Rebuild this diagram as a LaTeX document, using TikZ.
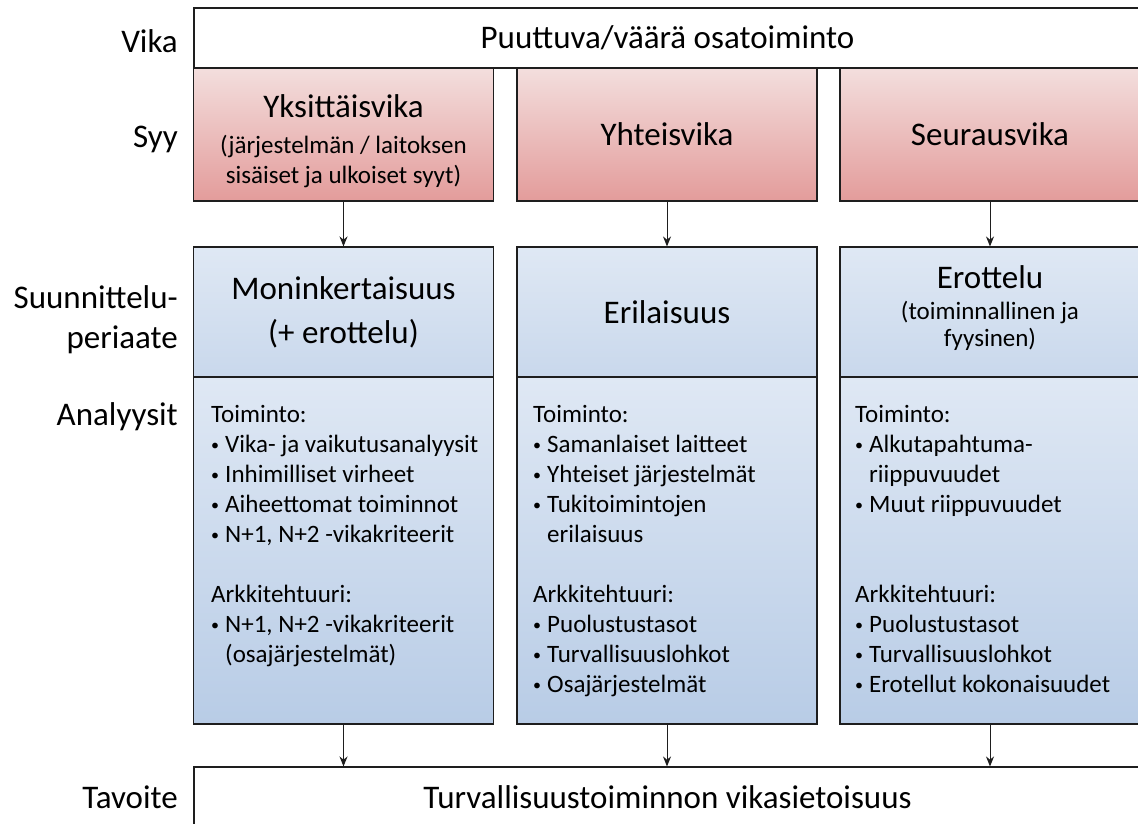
\documentclass[tikz,border=0pt]{standalone}
\usepackage{fontspec}
\setmainfont{Carlito}
\usepackage{tikz}
\usetikzlibrary{arrows.meta,positioning}
\definecolor{RedTop}{HTML}{F3DEDD}
\definecolor{RedBot}{HTML}{E39C9B}
\definecolor{BlueTop}{HTML}{DFE8F4}
\definecolor{BlueMid}{HTML}{C9D8EC}
\definecolor{BlueBot}{HTML}{B8CCE6}
\definecolor{Edge}{HTML}{1E1E1E}
\newcommand{\lblfont}{\fontsize{33pt}{40pt}\selectfont}
\newcommand{\txtfont}{\fontsize{25pt}{30pt}\selectfont}
\newcommand{\bulit}{\makebox[14pt][l]{\raisebox{2pt}{\fontsize{16pt}{16pt}\selectfont\textbullet}}}
\newcommand{\contind}{\hspace*{14pt}}

\begin{document}
\begin{tikzpicture}[
  x=1pt, y=-1pt,
  every node/.style={inner sep=0pt, text=black},
  lbl/.style={font=\lblfont, anchor=base east, align=right},
  wb/.style={rectangle, draw=Edge, line width=1.1pt, fill=white,
             minimum width=947pt, minimum height=60pt, font=\lblfont},
  syy/.style={rectangle, draw=Edge, line width=1.1pt, top color=RedTop, bottom color=RedBot,
              minimum width=300pt, minimum height=133pt, align=center, font=\lblfont},
  per/.style={rectangle, draw=Edge, line width=1.1pt, top color=BlueTop, bottom color=BlueMid,
              minimum width=300pt, minimum height=130pt, align=center, font=\lblfont},
  ana/.style={rectangle, draw=Edge, line width=1.1pt, top color=BlueTop, bottom color=BlueBot,
              minimum width=300pt, minimum height=347pt},
  txt/.style={anchor=north west, align=left, font=\txtfont},
  arr/.style={-{Stealth[length=10pt,width=8pt]}, line width=1pt, draw=Edge},
]
\clip (0,0) rectangle (1138,823);
\fill[white] (0,0) rectangle (1138,823);

%% ─ Row labels ───────────────────────────────────────────────────────────────
\node[lbl] (lvika) at (178, 52)  {Vika};
\node[lbl] (lsyy)  at (178,147)  {Syy};
\node[font=\lblfont, anchor=east, align=right] (lsuu) at (178,320) {Suunnittelu-\\periaate};
\node[lbl] (lana)  at (178,425)  {Analyysit};
\node[lbl] (ltav)  at (178,808)  {Tavoite};

%% ─ Fault and causes ─────────────────────────────────────────────────────────
\node[wb] (vika) at (667.5, 38) {Puuttuva/väärä osatoiminto};

\node[syy] (yks) at (343.5,134.5) {};
\node[align=center, font=\lblfont] (ykstxt) at (343.5,141)
  {Yksittäisvika\\[-4pt]{\txtfont (järjestelmän / laitoksen}\\[-10pt]{\txtfont sisäiset ja ulkoiset syyt)}};
\node[syy] (yht) at (667.0,134.5) {Yhteisvika};
\node[syy] (seu) at (990.0,134.5) {Seurausvika};

%% ─ Design principles ────────────────────────────────────────────────────────
\node[per] (per1) at (343.5,312) {Moninkertaisuus\\[4pt](+ erottelu)};
\node[per] (per2) at (667.0,312) {Erilaisuus};
\node[per] (per3) at (990.0,312) {};
\node[align=center, font=\lblfont] (per3txt) at (990.0,308)
  {Erottelu\\[-9pt]{\txtfont (toiminnallinen ja}\\[-13pt]{\txtfont fyysinen)}};

%% ─ Analyses ─────────────────────────────────────────────────────────────────
\node[ana] (ana1) at (343.5,550.5) {};
\node[ana] (ana2) at (667.0,550.5) {};
\node[ana] (ana3) at (990.0,550.5) {};

\node[txt] (txt1) at (211,405) {Toiminto:\\
  \bulit Vika- ja vaikutusanalyysit\\
  \bulit Inhimilliset virheet\\
  \bulit Aiheettomat toiminnot\\
  \bulit N+1, N+2 -vikakriteerit\\[30pt]
  Arkkitehtuuri:\\
  \bulit N+1, N+2 -vikakriteerit\\
  \contind (osajärjestelmät)};
\node[txt] (txt2) at (533,405) {Toiminto:\\
  \bulit Samanlaiset laitteet\\
  \bulit Yhteiset järjestelmät\\
  \bulit Tukitoimintojen\\
  \contind erilaisuus\\[30pt]
  Arkkitehtuuri:\\
  \bulit Puolustustasot\\
  \bulit Turvallisuuslohkot\\
  \bulit Osajärjestelmät};
\node[txt] (txt3) at (855,405) {Toiminto:\\
  \bulit Alkutapahtuma-\\
  \contind riippuvuudet\\
  \bulit Muut riippuvuudet\\[60pt]
  Arkkitehtuuri:\\
  \bulit Puolustustasot\\
  \bulit Turvallisuuslohkot\\
  \bulit Erotellut kokonaisuudet};

%% ─ Goal ─────────────────────────────────────────────────────────────────────
\node[wb] (tav) at (667.5,797) {Turvallisuustoiminnon vikasietoisuus};

%% ─ Arrows ───────────────────────────────────────────────────────────────────
\draw[arr] (yks.south) -- (per1.north);
\draw[arr] (yht.south) -- (per2.north);
\draw[arr] (seu.south) -- (per3.north);
\draw[arr] (ana1.south) -- (ana1.south |- tav.north);
\draw[arr] (ana2.south) -- (ana2.south |- tav.north);
\draw[arr] (ana3.south) -- (ana3.south |- tav.north);

\end{tikzpicture}
\end{document}
